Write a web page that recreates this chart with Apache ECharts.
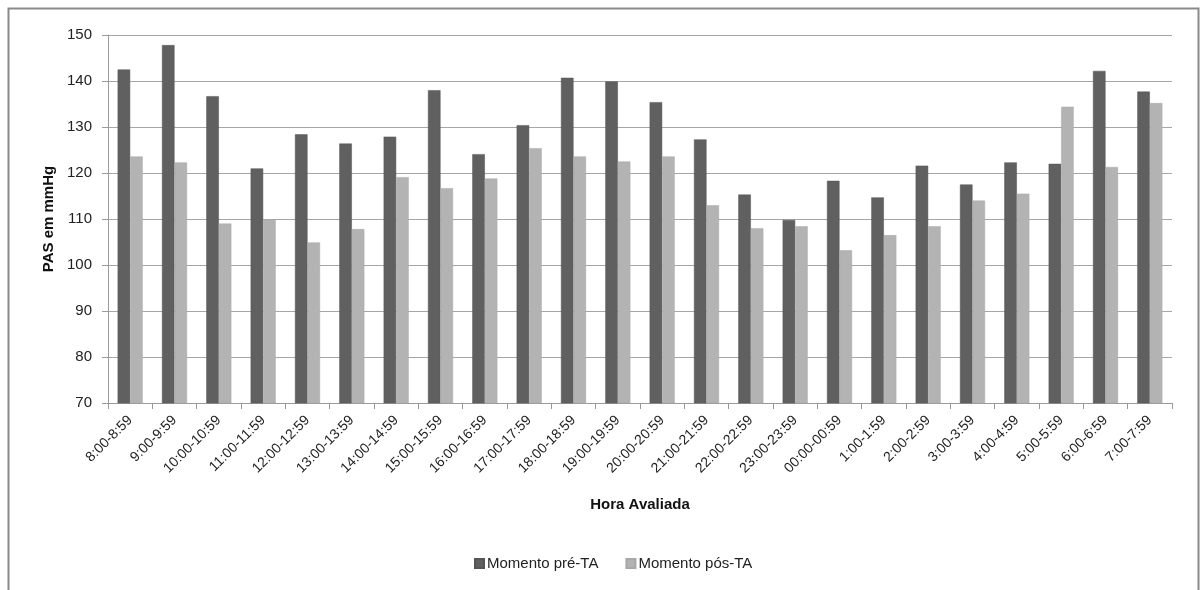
<!DOCTYPE html>
<html>
<head>
<meta charset="utf-8">
<script src="https://cdn.jsdelivr.net/npm/echarts@6/dist/echarts.min.js"></script>
<style>
html,body{margin:0;padding:0;background:#fff;}
#chart{width:1202px;height:590px;}
</style>
</head>
<body>
<div id="chart"></div>
<script>
const categories = ['8:00-8:59','9:00-9:59','10:00-10:59','11:00-11:59','12:00-12:59','13:00-13:59','14:00-14:59','15:00-15:59','16:00-16:59','17:00-17:59','18:00-18:59','19:00-19:59','20:00-20:59','21:00-21:59','22:00-22:59','23:00-23:59','00:00-00:59','1:00-1:59','2:00-2:59','3:00-3:59','4:00-4:59','5:00-5:59','6:00-6:59','7:00-7:59'];
const preTA = [142.5,147.8,136.7,121.0,128.4,126.4,127.9,138.0,124.1,130.4,140.7,139.9,135.4,127.3,115.3,109.8,118.3,114.7,121.6,117.5,122.3,122.0,142.2,137.7];
const posTA = [123.6,122.3,109.0,109.9,104.9,107.8,119.1,116.7,118.8,125.4,123.6,122.5,123.6,113.0,108.0,108.4,103.2,106.5,108.4,114.0,115.5,134.4,121.3,135.2];
const seriesNames = ['Momento pré-TA','Momento pós-TA'];
const yAxisName = 'PAS em mmHg';
const xAxisName = 'Hora Avaliada';

const FONT = "'Liberation Sans', Arial, sans-serif";
const chart = echarts.init(document.getElementById('chart'), null, {renderer:'canvas'});
chart.setOption({
  backgroundColor:'#fff',
  animation:false,
  graphic:[{
    type:'rect', z:-10,
    shape:{x:8.5,y:8.5,width:1190,height:640},
    style:{fill:'none',stroke:'#8a8a8a',lineWidth:2}
  }],
  legend:{
    data:seriesNames,
    left:469, top:551,
    itemWidth:9, itemHeight:9, itemGap:27,
    icon:'rect',
    textStyle:{fontFamily:FONT,fontSize:15,color:'#222',padding:[0,0,0,-2]}
  },
  grid:{left:108,right:30,top:35,bottom:187,containLabel:false},
  xAxis:{
    type:'category',
    data:categories,
    name:xAxisName,
    nameLocation:'middle',
    nameGap:94,
    nameTextStyle:{fontFamily:FONT,fontSize:15,fontWeight:'bold',color:'#111'},
    axisLine:{lineStyle:{color:'#9a9a9a',width:1}},
    axisTick:{show:true,alignWithLabel:false,length:6,lineStyle:{color:'#9a9a9a'}},
    axisLabel:{rotate:45,fontFamily:FONT,fontSize:14,color:'#222',margin:15,interval:0},
    splitLine:{show:false}
  },
  yAxis:{
    type:'value',
    min:70,max:150,interval:10,
    name:yAxisName,
    nameLocation:'middle',
    nameGap:44,
    nameTextStyle:{fontFamily:FONT,fontSize:15,fontWeight:'bold',color:'#111'},
    axisLine:{show:true,lineStyle:{color:'#9a9a9a',width:1}},
    axisTick:{show:true,length:6,lineStyle:{color:'#9a9a9a'}},
    axisLabel:{fontFamily:FONT,fontSize:15,color:'#222',margin:16},
    splitLine:{show:true,lineStyle:{color:'#a6a6a6',width:1}}
  },
  series:[
    {name:seriesNames[0],type:'bar',data:preTA,barGap:'0%',barCategoryGap:'43.5%',
     itemStyle:{color:'#606060',borderColor:'#555',borderWidth:0.5}},
    {name:seriesNames[1],type:'bar',data:posTA,barGap:'0%',barCategoryGap:'43.5%',
     itemStyle:{color:'#b3b3b3',borderColor:'#a8a8a8',borderWidth:0.5}}
  ]
});
</script>
</body>
</html>
